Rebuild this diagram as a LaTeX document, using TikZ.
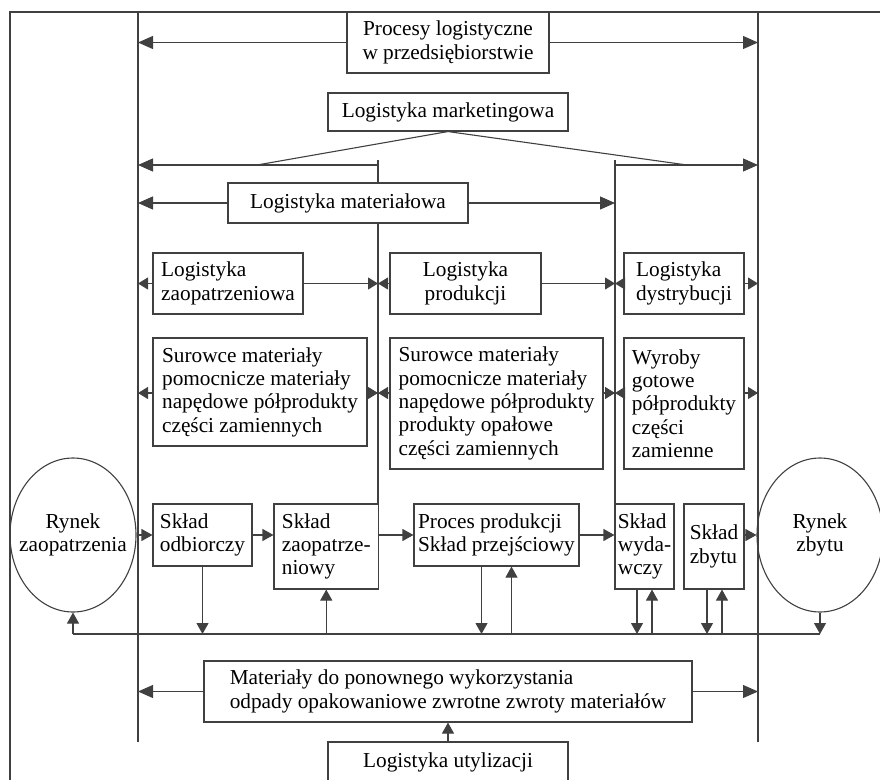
\documentclass[tikz,border=0pt]{standalone}
\usepackage{fontspec}
\setmainfont{Liberation Serif}
\usetikzlibrary{arrows.meta,shapes.geometric}

\begin{document}
\begin{tikzpicture}[
  x=1pt, y=-1pt,
  line width=1.1pt, draw=black!75,
  txt/.style={font=\fontsize{21.3}{23.3}\selectfont, text=black},
  box/.style={txt, draw=black!75, fill=white, inner sep=0pt, align=left},
  wh/.style 2 args={minimum width=#1, minimum height=#2},
  rynek/.style={txt, draw=black!75, ellipse, align=center, inner xsep=-20pt,
                inner ysep=0pt, minimum width=126pt, minimum height=154pt},
  big/.style={-{Triangle[length=15pt,width=13pt]}},
  mid/.style={-{Triangle[length=11pt,width=12pt]}},
  small/.style={-{Triangle[length=10pt,width=12pt]}}
]
  \useasboundingbox (0,0) rectangle (880,779);
  \clip (0,0) rectangle (880,779);

  \coordinate (vLt) at (138,12);
  \coordinate (vLb) at (138,742);
  \coordinate (vRt) at (758,12);
  \coordinate (vRb) at (758,742);
  \coordinate (m1) at (378,160);
  \coordinate (m2) at (615,160);
  \coordinate (tl) at (257,165);
  \coordinate (tr) at (687,165);
  \coordinate (r2) at (0,393);
  \coordinate (bus) at (0,634);

  \draw (10,790) -- (10,12) -- (890,12);
  \draw (vLt) -- (vLb);
  \draw (vRt) -- (vRb);

  \node[box, wh={202pt}{61pt}, align=center] (proc) at (448,42.5)
    {Procesy logistyczne\\w przedsiębiorstwie};
  \node[box, wh={240pt}{38pt}] (mark) at (448,112) {Logistyka marketingowa};
  \node[box, wh={240pt}{40pt}] (mat) at (348,203) {Logistyka materiałowa};

  \node[box, wh={150pt}{61pt}] (lz) at (228,283.5) {Logistyka\\zaopatrzeniowa};
  \node[box, wh={151pt}{61pt}, align=center] (lp) at (465.5,283.5) {Logistyka\\produkcji};
  \node[box, wh={120pt}{61pt}] (ld) at (684,283.5) {Logistyka\\dystrybucji};

  \node[box, wh={214pt}{108pt}] (sz1) at (260,392)
    {Surowce materiały\\pomocnicze materiały\\napędowe półprodukty\\części zamiennych};
  \node[box, wh={213pt}{131pt}] (sp1) at (496.5,403.5)
    {Surowce materiały\\pomocnicze materiały\\napędowe półprodukty\\produkty opałowe\\części zamiennych};
  \node[box, wh={120pt}{131pt}] (sd1) at (684,403.5)
    {Wyroby\\gotowe\\półprodukty\\części\\zamienne};

  \node[rynek] (rz) at (73,535) {Rynek\\zaopatrzenia};
  \node[box, wh={99pt}{62pt}] (so) at (202.5,535) {Skład\\odbiorczy};
  \node[box, wh={104.5pt}{85pt}] (sza) at (326.25,546.5) {Skład\\zaopatrze-\\niowy};
  \node[box, wh={165pt}{62pt}] (pp) at (496.5,535) {Proces produkcji\\Skład przejściowy};
  \node[box, wh={59pt}{85pt}] (sw) at (644.5,546.5) {Skład\\wyda-\\wczy};
  \node[box, wh={60pt}{85pt}] (szb) at (714,546.5) {Skład\\zbytu};
  \node[rynek] (rzb) at (820,535) {Rynek\\zbytu};

  \node[box, wh={488pt}{61pt}] (mp) at (448,691.5)
    {Materiały do ponownego wykorzystania\\odpady opakowaniowe zwrotne zwroty materiałów};
  \node[box, wh={240pt}{40pt}] (lu) at (448,762) {Logistyka utylizacji};

  \draw (m1) -- (m1 |- mat.north);
  \draw (m1 |- mat.south) -- (m1 |- sza.north);
  \draw (m2) -- (m2 |- sw.north);

  \draw[big] (proc) -- (proc -| vLt);
  \draw[big] (proc) -- (proc -| vRt);
  \draw (mark.south) -- (tl);
  \draw (mark.south) -- (tr);
  \draw[big] (m1 |- tl) -- (vLt |- tl);
  \draw[big] (m2 |- tr) -- (vRt |- tr);
  \draw[big] (mat) -- (mat -| vLt);
  \draw[big] (mat) -- (mat -| m2);

  \draw[small] (lz) -- (lz -| vLt);
  \draw[small] (lz) -- (lz -| m1);
  \draw[small] (lp) -- (lp -| m1);
  \draw[small] (lp) -- (lp -| m2);
  \draw[small] (ld) -- (ld -| m2);
  \draw[small] (ld) -- (ld -| vRt);

  \draw[small] (sz1.west |- r2) -- (vLt |- r2);
  \draw[small] (sz1.east |- r2) -- (m1 |- r2);
  \draw[small] (sp1.west |- r2) -- (m1 |- r2);
  \draw[small] (sp1.east |- r2) -- (m2 |- r2);
  \draw[small] (sd1.west |- r2) -- (m2 |- r2);
  \draw[small] (sd1.east |- r2) -- (vRt |- r2);

  \draw[mid] (rz) -- (so);
  \draw[mid] (so) -- (sza.west |- so);
  \draw[mid] (sza.east |- so) -- (pp);
  \draw[mid] (pp) -- (sw.west |- pp);
  \draw[mid] (szb.east |- so) -- (rzb);

  \draw (rz.south |- bus) -- (rzb.south |- bus);
  \draw[mid] (rz.south |- bus) -- (rz.south);
  \draw[mid] (so.south) -- (so.south |- bus);
  \draw[mid] (sza.south |- bus) -- (sza.south);
  \draw[mid] ([xshift=-15pt]pp.south) -- ([xshift=-15pt]pp.south |- bus);
  \draw[mid] ([xshift=15pt]pp.south |- bus) -- ([xshift=15pt]pp.south);
  \draw[mid] ([xshift=-7.5pt]sw.south) -- ([xshift=-7.5pt]sw.south |- bus);
  \draw[mid] ([xshift=7.5pt]sw.south |- bus) -- ([xshift=7.5pt]sw.south);
  \draw[mid] ([xshift=-7pt]szb.south) -- ([xshift=-7pt]szb.south |- bus);
  \draw[mid] ([xshift=8pt]szb.south |- bus) -- ([xshift=8pt]szb.south);
  \draw[mid] (rzb.south) -- (rzb.south |- bus);

  \draw[big] (mp) -- (mp -| vLt);
  \draw[big] (mp) -- (mp -| vRt);
  \draw[mid] (lu) -- (mp);
\end{tikzpicture}
\end{document}
